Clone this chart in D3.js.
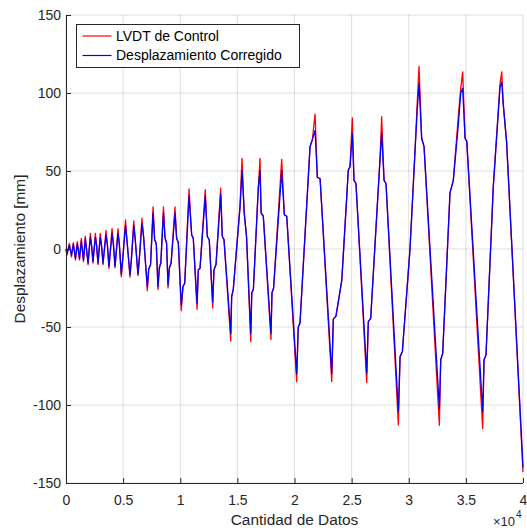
<!DOCTYPE html>
<html>
<head>
<meta charset="utf-8">
<script src="https://cdn.jsdelivr.net/npm/d3@7"></script>
<style>
  body { margin: 0; background: #fff; }
  svg { display: block; font-family: "Liberation Sans", Arial, sans-serif; }
</style>
</head>
<body>
<div id="chart"></div>
<script>
// data: sample index, LVDT (red), corrected (blue)
var dataIndex = [
  0, 90, 290, 480, 640, 830, 990,
  1180, 1340, 1530, 1690,
  1930, 2130, 2240, 2360, 2570, 2680, 2800, 3000, 3110,
  3240, 3500, 3620, 3760, 4030, 4150, 4290, 4550, 4670,
  4840, 4960, 5210, 5330, 5600, 5720, 5930, 6050, 6300, 6420, 6650, 6790,
  7120, 7240, 7400, 7620, 7760, 7900, 8050, 8170, 8300, 8530, 8670, 8800, 8930, 9050, 9200, 9540, 9680, 9830,
  10090, 10240, 10390, 10770, 11000, 11140, 11470, 11580, 11730, 12190, 12370, 12540, 12840, 12950, 13130, 13540, 13680, 13830,
  14420, 14500, 14640, 15230, 15405, 15600, 15800, 16170, 16260, 16400, 16830, 16980, 17080, 17270, 17940, 18030, 18170, 18880, 19110, 19320,
  20190, 20330, 20480, 21360, 21560, 21800, 22000, 22240, 23260, 23400, 23630, 24140, 24710, 24860, 25060, 25210, 25380, 26320, 26460, 26670, 27480, 27630, 27840, 28010,
  29090, 29240, 29440, 30110, 30550, 30750, 30900, 31130, 31340, 32680, 32800, 32970, 33610, 33900, 34340, 34550, 34720, 34930, 35080, 36470, 36590, 36760, 37400, 37990, 38140, 38270, 38570,
  40000
];
var lvdtControl = [
  0, -4, 3.6, -5, 4, -7, 4.7,
  -7, 6.8, -8, 8.3,
  -10, 10, 2, -9, 10, 2, -10, 10, 2,
  -10, 12, 3, -12.4, 13, 3, -12, 13, 3,
  -17.7, -7, 18.6, 6, -18, -7, 18, 7, -17, -6, 19.7, 8,
  -26.7, -13, -10, 27, 6, 3.6, -26, -12, -9, 27, 7, 4, -25, -12, -9, 27, 7, 4,
  -39.5, -24, -22, 38.5, 9, 7, -38.7, -13.5, -12.4, 38, 8, 5.8, -37.8, -13.5, -10, 39, 8, 6,
  -59, -30.5, -26, 27, 58, 23, 8, -59.4, -28, -26, 39, 58, 23, 21, -58, -28, -25, 57.5, 22, 21,
  -85, -50, -47.6, 65.6, 70, 86.5, 46, 45, -85, -45, -43, -20, 50.6, 52.8, 84, 44, 42, -85.5, -46.6, -44.4, 57, 84.8, 44, 42,
  -112.8, -69, -65.8, 0, 63, 95, 117, 71, 65.6, -113, -71, -67, 36, 44, 85, 103, 113.6, 71, 69, -115, -71, -68, 40, 106, 113.5, 93, 68,
  -143
];
var desplCorregido = [
  0, -3, 2.5, -4, 3, -6, 3.5,
  -6, 5, -7, 6.5,
  -9, 7.5, 2, -8, 7.5, 2, -9, 7.5, 2,
  -9, 9, 3, -11, 10, 3, -11, 10, 3,
  -16, -7, 15, 6, -16.5, -7, 15, 7, -16, -6, 16, 8,
  -24, -13, -10, 23, 6, 3.6, -24, -12, -9, 23, 7, 4, -23, -12, -9, 23, 7, 4,
  -36, -24, -22, 34, 9, 7, -35, -13.5, -12.4, 34, 8, 5.8, -34, -13.5, -10, 35, 8, 6,
  -54, -30.5, -26, 27, 50, 23, 8, -54, -28, -26, 39, 50, 23, 21, -54, -28, -25, 50, 22, 21,
  -80, -50, -47.6, 65.6, 70, 76, 46, 45, -80, -45, -43, -20, 50.6, 52.8, 74, 44, 42, -79.5, -46.6, -44.4, 57, 74, 44, 42,
  -104, -69, -65.8, 0, 63, 90, 106, 71, 65.6, -102, -71, -67, 36, 44, 80, 100, 103, 71, 69, -104, -71, -68, 40, 104, 107, 93, 68,
  -140
];
var xTicks = [0, 5000, 10000, 15000, 20000, 25000, 30000, 35000, 40000];
var yTicks = [-150, -100, -50, 0, 50, 100, 150];
var seriesNames = ["LVDT de Control", "Desplazamiento Corregido"];
var seriesColors = ["#ff0000", "#0000ff"];

var width = 527, height = 531;
var plot = {left: 66, right: 523, top: 15, bottom: 483};
var axisColor = "#262626";

var svg = d3.select("#chart").append("svg")
    .attr("width", width)
    .attr("height", height);

var xScale = d3.scaleLinear().domain([0, 40000]).range([plot.left, plot.right]);
var yScale = d3.scaleLinear().domain([-150, 150]).range([plot.bottom, plot.top]);

// grid
var grid = svg.append("g");
grid.selectAll("line.gx").data(xTicks).enter().append("line")
    .attr("x1", function(d) { return xScale(d); })
    .attr("x2", function(d) { return xScale(d); })
    .attr("y1", plot.top).attr("y2", plot.bottom)
    .attr("stroke", axisColor).attr("stroke-opacity", 0.15).attr("stroke-width", 1);
grid.selectAll("line.gy").data(yTicks).enter().append("line")
    .attr("y1", function(d) { return yScale(d); })
    .attr("y2", function(d) { return yScale(d); })
    .attr("x1", plot.left).attr("x2", plot.right)
    .attr("stroke", axisColor).attr("stroke-opacity", 0.15).attr("stroke-width", 1);

// lines
var points = dataIndex.map(function(d, i) {
    return {i: d, a: lvdtControl[i], b: desplCorregido[i]};
});
var lineA = d3.line().x(function(d) { return xScale(d.i); }).y(function(d) { return yScale(d.a); });
var lineB = d3.line().x(function(d) { return xScale(d.i); }).y(function(d) { return yScale(d.b); });
var dataGroup = svg.append("g");
dataGroup.append("path").attr("d", lineA(points))
    .attr("fill", "none").attr("stroke", seriesColors[0]).attr("stroke-width", 1.3)
    .attr("stroke-linejoin", "round");
dataGroup.append("path").attr("d", lineB(points))
    .attr("fill", "none").attr("stroke", seriesColors[1]).attr("stroke-width", 1.3)
    .attr("stroke-linejoin", "round");

// axes (ticks inside, matlab style)
var xAxis = svg.append("g")
    .attr("transform", "translate(0," + plot.bottom + ")")
    .call(d3.axisBottom(xScale).tickValues(xTicks).tickSize(-5).tickPadding(12)
        .tickFormat(function(d) { return String(d / 10000); }));
var yAxis = svg.append("g")
    .attr("transform", "translate(" + plot.left + ",0)")
    .call(d3.axisLeft(yScale).tickValues(yTicks).tickSize(-5).tickPadding(5)
        .tickFormat(function(d) { return String(d); }));
[xAxis, yAxis].forEach(function(ax) {
    ax.select(".domain").attr("stroke", axisColor).attr("stroke-width", 1);
    ax.selectAll(".tick line").attr("stroke", axisColor);
    ax.selectAll(".tick text").attr("fill", axisColor)
        .style("font-size", "14px").style("font-family", "'Liberation Sans', Arial, sans-serif");
});
yAxis.select(".domain").attr("d", "M0.5," + plot.top + "V" + plot.bottom);
xAxis.select(".domain").attr("d", "M" + plot.left + ",0.5H" + plot.right);

// axis labels
svg.append("text")
    .attr("x", (plot.left + plot.right) / 2).attr("y", 525)
    .attr("text-anchor", "middle").attr("fill", axisColor)
    .style("font-size", "15.4px")
    .text("Cantidad de Datos");
svg.append("text")
    .attr("transform", "translate(25," + ((plot.top + plot.bottom) / 2) + ") rotate(-90)")
    .attr("text-anchor", "middle").attr("fill", axisColor)
    .style("font-size", "15.4px")
    .text("Desplazamiento [mm]");
svg.append("text")
    .attr("x", 515).attr("y", 526)
    .attr("text-anchor", "end").attr("fill", axisColor)
    .style("font-size", "13px")
    .text("\u00d710");
svg.append("text")
    .attr("x", 516).attr("y", 518)
    .attr("fill", axisColor)
    .style("font-size", "10px")
    .text("4");

// legend
var legend = svg.append("g").attr("transform", "translate(76.5,24.5)");
legend.append("rect")
    .attr("width", 223).attr("height", 43)
    .attr("fill", "#fff").attr("stroke", axisColor).attr("stroke-width", 1);
seriesNames.forEach(function(name, i) {
    var yy = 11.5 + i * 19.5;
    legend.append("line")
        .attr("x1", 6).attr("x2", 35).attr("y1", yy).attr("y2", yy)
        .attr("stroke", seriesColors[i]).attr("stroke-width", 1.2);
    legend.append("text")
        .attr("x", 39.5).attr("y", yy).attr("dy", "0.35em")
        .attr("fill", "#000").style("font-size", "14px")
        .text(name);
});
</script>
</body>
</html>
